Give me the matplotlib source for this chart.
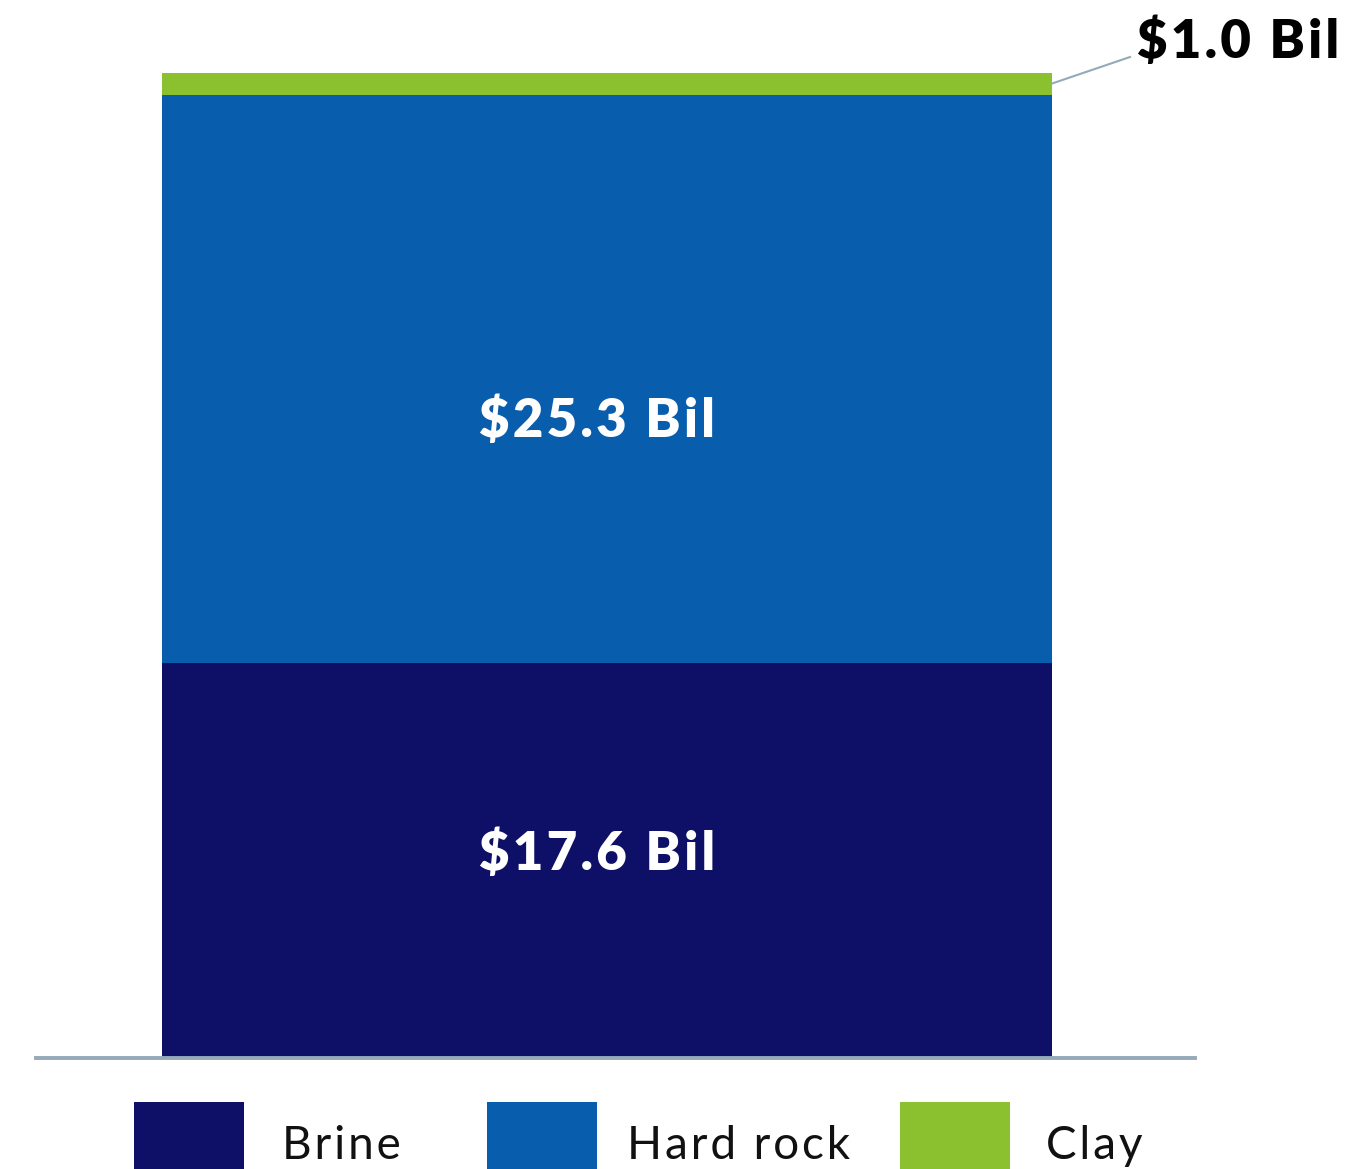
import matplotlib
matplotlib.use("Agg")
import matplotlib.pyplot as plt
from matplotlib.patches import Rectangle

# data
categories = ["Brine", "Hard rock", "Clay"]
values = [17.6, 25.3, 1.0]
labels = ["$17.6 Bil", "$25.3 Bil", "$1.0 Bil"]
colors = ["#0e0f66", "#095dad", "#8bc12e"]

plt.rcParams["font.family"] = ["Lato", "DejaVu Sans"]

HAIR = "\u200a"


def spaced(s):
    # crude letter spacing with hair spaces
    return HAIR.join(s)


W, H = 1372, 1169
fig = plt.figure(figsize=(W / 100, H / 100), dpi=100)

# axes spans the baseline (x 36..1195 px), bar bottom at y=1057, top at y=73
ax = fig.add_axes([36 / W, (H - 1057) / H, (1195 - 36) / W, (1057 - 73) / H])
total = sum(values)
ax.set_ylim(0, total)
bar_w = 0.8
px = 890 / bar_w
x0 = -bar_w / 2 - 126 / px
ax.set_xlim(x0, bar_w / 2 + 143 / px)
ax.axis("off")


def X(p):
    return x0 + (p - 36) / px


def Y(p):
    return (1057 - p) / 984 * total


label_pos = [0.474, 0.398]  # baseline position inside each segment

bottom = 0
for i, (v, lab, c) in enumerate(zip(values, labels, colors)):
    ax.bar(0, v, width=bar_w, bottom=bottom, color=c, linewidth=0)
    txt = spaced(lab).replace("$", r"\$")
    if i < 2:
        ax.text(-10 / px, bottom + v * label_pos[i], txt, ha="center",
                va="baseline", color="white", fontsize=38, fontweight="heavy")
    else:
        # leader line to the callout for the thin top segment
        ax.plot([bar_w / 2, X(1130)], [bottom + v * 0.53, Y(57)],
                color="#94aab8", lw=1.5, clip_on=False)
        ax.text(X(1137), Y(58), txt, ha="left", va="baseline",
                fontsize=38, fontweight="heavy", color="black")
    bottom += v

ax.axhline(-0.05, color="#94aab8", lw=2.8, clip_on=False)

# legend drawn by hand below the baseline
sq_x = [134, 487, 900]
txt_x = [282, 627, 1046]
for cat, c, sx, tx in zip(categories, colors, sq_x, txt_x):
    fig.patches.append(Rectangle((sx / W, (H - 1186) / H), 110 / W, 84 / H,
                                 transform=fig.transFigure, color=c, lw=0))
    fig.text(tx / W, (H - 1159) / H, spaced(cat), ha="left", va="baseline",
             fontsize=33, color="#111111")

fig.savefig("out.png", dpi=100)
